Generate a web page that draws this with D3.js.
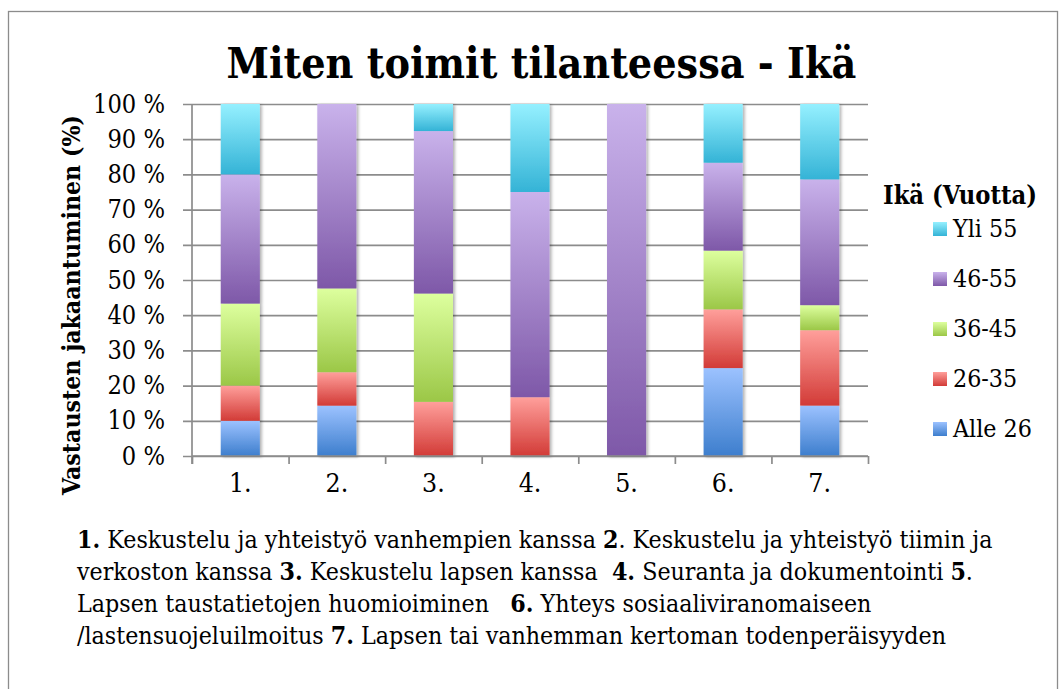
<!DOCTYPE html>
<html><head><meta charset="utf-8">
<script src="https://cdn.jsdelivr.net/npm/d3@7/dist/d3.min.js"></script>
<style>
html,body{margin:0;padding:0;background:#fff;}
svg{display:block;}
text{font-family:"DejaVu Serif Condensed","DejaVu Serif",serif;font-stretch:condensed;fill:#000;white-space:pre;}
</style></head>
<body>
<svg id="c" width="1060" height="689"></svg>
<script>
const categories = ["1.","2.","3.","4.","5.","6.","7."];
const seriesNames = ["Alle 26","26-35","36-45","46-55","Yli 55"];
const alle26 = [10, 14.3, 0, 0, 0, 25, 14.3];
const age26_35 = [10, 9.5, 15.4, 16.7, 0, 16.7, 21.4];
const age36_45 = [23.3, 23.8, 30.8, 0, 0, 16.7, 7.1];
const age46_55 = [36.7, 52.4, 46.2, 58.3, 100, 25, 35.7];
const yli55 = [20, 0, 7.7, 25, 0, 16.7, 21.4];
const yTicks = [0,0.1,0.2,0.3,0.4,0.5,0.6,0.7,0.8,0.9,1];
const colorsTop = ["#9cc2ff","#ff9f9b","#ddff9e","#c9b2eb","#95f0ff"];
const colorsBottom = ["#3d7ecd","#d23b37","#9bc747","#7e58a8","#34b3d6"];
const title = "Miten toimit tilanteessa - Ikä";
const yTitle = "Vastausten jakaantuminen (%)";
const legendTitle = "Ikä (Vuotta)";
const footnote = [
  [["1.",1],[" Keskustelu ja yhteistyö vanhempien kanssa ",0],["2",1],[". Keskustelu ja yhteistyö tiimin ja",0]],
  [["verkoston kanssa ",0],["3.",1],[" Keskustelu lapsen kanssa  ",0],["4.",1],[" Seuranta ja dokumentointi ",0],["5",1],[".",0]],
  [["Lapsen taustatietojen huomioiminen   ",0],["6.",1],[" Yhteys sosiaaliviranomaiseen",0]],
  [["/lastensuojeluilmoitus ",0],["7.",1],[" Lapsen tai vanhemman kertoman todenperäisyyden",0]]
];

const seriesData = [alle26, age26_35, age36_45, age46_55, yli55];
const table = categories.map((c,i)=>{const o={cat:c}; seriesNames.forEach((s,j)=>o[s]=seriesData[j][i]); return o;});

const svg = d3.select("#c");
const M = {left:192, right:868, top:104, bottom:456};
const W = M.right-M.left, H = M.bottom-M.top;

function fit(sel, target){
  const n = sel.node(); const fs = parseFloat(sel.attr("font-size"));
  const w = n.getComputedTextLength();
  sel.attr("font-size", fs*target/w);
}

// frame
svg.append("rect").attr("x",8.5).attr("y",11.5).attr("width",1049).attr("height",700)
  .attr("fill","none").attr("stroke","#8c8c8c").attr("stroke-width",1.3);

const defs = svg.append("defs");
seriesNames.forEach((s,j)=>{
  const g = defs.append("linearGradient").attr("id","g"+j).attr("x1",0).attr("y1",0).attr("x2",0).attr("y2",1);
  g.append("stop").attr("offset","0%").attr("stop-color",colorsTop[j]);
  g.append("stop").attr("offset","100%").attr("stop-color",colorsBottom[j]);
});
const f = defs.append("filter").attr("id","sh").attr("x","-20%").attr("y","-5%").attr("width","140%").attr("height","110%");
f.append("feDropShadow").attr("dx",2).attr("dy",1).attr("stdDeviation",1.5).attr("flood-color","#000").attr("flood-opacity",0.3);

const x = d3.scaleBand().domain(categories).range([M.left,M.right]).padding(0);
const xEdge = d3.scaleLinear().domain([0,categories.length]).range([M.left,M.right]);
const y = d3.scaleLinear().domain([0,1]).range([M.bottom,M.top]);

// gridlines + y labels
const ya = svg.append("g").attr("transform",`translate(${M.left-9},0)`)
  .call(d3.axisLeft(y).tickValues(yTicks).tickSize(-(W+9)).tickPadding(18).tickFormat(d=>Math.round(d*100)+" %"));
ya.select(".domain").remove();
ya.selectAll("line").attr("stroke","#8c8c8c").attr("stroke-width",1.7);
ya.selectAll("text").attr("font-family",null).attr("font-size",20).attr("fill","#000");
const ref = ya.selectAll("text").filter(d=>d===1);
const s0 = 20*72/ref.node().getComputedTextLength();
ya.selectAll("text").attr("font-size",s0);

// bars
const stack = d3.stack().keys(seriesNames).offset(d3.stackOffsetExpand);
const stacked = stack(table);
const bw = x.bandwidth()*0.405;
const bars = svg.append("g").attr("filter","url(#sh)");
stacked.forEach((ser,j)=>{
  bars.append("g").selectAll("rect").data(ser.filter(d=>d[1]-d[0]>0)).join("rect")
    .attr("x",d=>x(d.data.cat)+(x.bandwidth()-bw)/2)
    .attr("width",bw)
    .attr("y",d=>y(d[1]))
    .attr("height",d=>y(d[0])-y(d[1]))
    .attr("fill",`url(#g${j})`);
});

// x axis ticks at boundaries
const xa = svg.append("g").attr("transform",`translate(0,${M.bottom})`)
  .call(d3.axisBottom(xEdge).ticks(categories.length).tickSize(8).tickFormat(""));
xa.select(".domain").remove();
xa.selectAll("line").attr("stroke","#8c8c8c").attr("stroke-width",1.7);
svg.append("line").attr("x1",M.left).attr("x2",M.left).attr("y1",M.top).attr("y2",M.bottom+8)
  .attr("stroke","#8c8c8c").attr("stroke-width",1.7);
svg.append("line").attr("x1",M.left).attr("x2",M.right).attr("y1",M.bottom).attr("y2",M.bottom)
  .attr("stroke","#8c8c8c").attr("stroke-width",1.7);

const xl = svg.append("g").attr("transform",`translate(0,${M.bottom})`)
  .call(d3.axisBottom(x).tickSize(0).tickPadding(36));
xl.select(".domain").remove();
xl.selectAll("text").attr("font-family",null).attr("font-size",s0*1.05).attr("fill","#000").attr("dy","0");

// title
const t = svg.append("text").attr("x",541.5).attr("y",78).attr("text-anchor","middle")
  .attr("font-weight","bold").attr("font-size",40).text(title);
fit(t,630);

// y title
const yt = svg.append("text").attr("transform","translate(80,305) rotate(-90)").attr("text-anchor","middle")
  .attr("font-weight","bold").attr("font-size",22).text(yTitle);
fit(yt,380);

// legend
const lt = svg.append("text").attr("x",883).attr("y",204).attr("font-weight","bold").attr("font-size",22).text(legendTitle);
fit(lt,154);
const legendOrder = seriesNames.map((s,j)=>({s,j})).reverse();
const lg = svg.append("g");
legendOrder.forEach((d,i)=>{
  const cy = 229 + i*50;
  lg.append("rect").attr("x",933).attr("y",cy-7).attr("width",14).attr("height",14).attr("fill",`url(#g${d.j})`);
  const tx = lg.append("text").attr("x",953).attr("y",cy+8).attr("font-size",20).text(d.s);
  if (i===4) fit(tx,79);
});
const ls = parseFloat(lg.selectAll("text").filter((d,i)=>i===4).attr("font-size"));
lg.selectAll("text").attr("font-size",ls);

// footnote
const fg = svg.append("g");
const lines = footnote.map((parts,i)=>{
  const tx = fg.append("text").attr("x",77).attr("y",548+i*32).attr("font-size",20);
  parts.forEach(p=>tx.append("tspan").attr("font-weight",p[1]?"bold":"normal").text(p[0]));
  return tx;
});
const w0 = lines[0].node().getComputedTextLength();
const fs = 20*916/w0;
lines.forEach(l=>l.attr("font-size",fs));
</script>
</body></html>
